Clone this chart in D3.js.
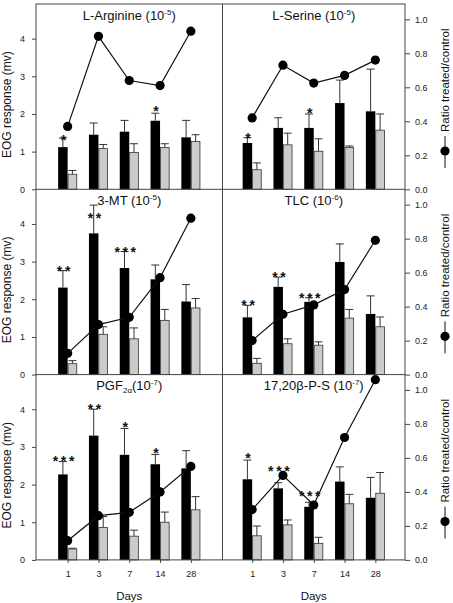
<!DOCTYPE html>
<html>
<head>
<meta charset="utf-8">
<script src="https://cdn.jsdelivr.net/npm/d3@7"></script>
<style>
  body { margin: 0; background: #fff; }
  svg { display: block; font-family: Arial, "Liberation Sans", sans-serif; }
</style>
</head>
<body>
<div id="chart"></div>
<script>
// days after exposure (x categories)
const days = ["1", "3", "7", "14", "28"]

// panel titles, split into plain / sup / sub parts
const titleParts = [
  [["L-Arginine (10", ""], ["-5", "sup"], [")", ""]],
  [["L-Serine (10", ""], ["-5", "sup"], [")", ""]],
  [["3-MT (10", ""], ["-5", "sup"], [")", ""]],
  [["TLC (10", ""], ["-6", "sup"], [")", ""]],
  [["PGF", ""], ["2\u03b1", "sub"], ["(10", ""], ["-7", "sup"], [")", ""]],
  [["17,20\u03b2-P-S (10", ""], ["-7", "sup"], [")", ""]]
]

// EOG response (mv), black bars = treated, grey bars = control
const treated = [
  [1.12, 1.45, 1.53, 1.82, 1.38],
  [1.23, 1.63, 1.63, 2.29, 2.07],
  [2.31, 3.75, 2.83, 2.53, 1.94],
  [1.52, 2.33, 1.93, 2.99, 1.61],
  [2.27, 3.30, 2.79, 2.54, 2.43],
  [2.14, 1.90, 1.41, 2.08, 1.65]
]
// top of the error bar (mean + SE)
const treatedErr = [
  [1.36, 1.76, 1.83, 2.02, 1.83],
  [1.37, 1.90, 2.00, 2.90, 3.19],
  [2.76, 4.50, 3.27, 2.91, 2.39],
  [1.84, 2.59, 2.04, 3.47, 2.09],
  [2.61, 4.00, 3.49, 2.80, 2.90],
  [2.65, 2.05, 1.53, 2.47, 2.19]
]
const control = [
  [0.40, 1.08, 0.98, 1.11, 1.27],
  [0.52, 1.18, 1.01, 1.11, 1.57],
  [0.29, 1.07, 0.95, 1.44, 1.77],
  [0.30, 0.82, 0.78, 1.50, 1.27],
  [0.29, 0.86, 0.63, 1.00, 1.33],
  [0.64, 0.93, 0.44, 1.49, 1.77]
]
const controlErr = [
  [0.50, 1.19, 1.21, 1.21, 1.45],
  [0.70, 1.49, 1.34, 1.15, 2.00],
  [0.37, 1.27, 1.24, 1.73, 2.02],
  [0.43, 0.95, 0.87, 1.73, 1.53],
  [0.31, 1.15, 0.79, 1.27, 1.68],
  [0.90, 1.06, 0.60, 1.74, 2.32]
]
// ratio treated/control (right axis)
const ratio = [
  [0.37, 0.90, 0.64, 0.61, 0.93],
  [0.42, 0.73, 0.625, 0.67, 0.76],
  [0.125, 0.294, 0.337, 0.57, 0.92],
  [0.20, 0.355, 0.41, 0.50, 0.79],
  [0.113, 0.26, 0.28, 0.40, 0.55],
  [0.296, 0.497, 0.323, 0.72, 1.06]
]
// significance marks and the level (mv) where they sit
const stars = [
  ["*", "", "", "*", ""],
  ["*", "", "*", "", ""],
  ["**", "**", "***", "", ""],
  ["**", "**", "***", "", ""],
  ["***", "**", "*", "*", ""],
  ["*", "***", "***", "", ""]
]
const starLevel = [
  [1.41, 0, 0, 2.17, 0],
  [1.46, 0, 2.11, 0, 0],
  [2.84, 4.25, 3.36, 0, 0],
  [1.95, 2.69, 2.14, 0, 0],
  [2.71, 4.11, 3.63, 2.92, 0],
  [2.79, 2.46, 1.79, 0, 0]
]

const leftTicks = [0, 1, 2, 3, 4]
const rightTicks = [0, 0.2, 0.4, 0.6, 0.8, 1.0]

// layout
const frame = {left: 36, mid: 222.5, right: 405, top: 4}
const rowH = 185.3
const leftMax = 4.92, rightMax = 1.09
const step = 30.8, barW = 9.5
const lineCol = "#444"

const svg = d3.select("#chart").append("svg")
  .attr("width", 453)
  .attr("height", 603)

titleParts.forEach((parts, p) => {
  const row = Math.floor(p / 2), col = p % 2
  const x0 = col ? frame.mid : frame.left
  const x1 = col ? frame.right : frame.mid
  const yTop = frame.top + row * rowH, yBot = yTop + rowH
  const cx = (x0 + x1) / 2

  const x = d3.scalePoint().domain(days).range([cx - 2 * step, cx + 2 * step])
  const y = d3.scaleLinear().domain([0, leftMax]).range([yBot, yTop])
  const yR = d3.scaleLinear().domain([0, rightMax]).range([yBot, yTop])

  const g = svg.append("g")

  // title
  const t = g.append("text")
    .attr("x", cx)
    .attr("y", yTop + 15.5)
    .attr("text-anchor", "middle")
    .style("font-size", "13px")
    .attr("fill", "#111")
  parts.forEach(([txt, kind]) => {
    const s = t.append("tspan").text(txt)
    if (kind === "sup") s.attr("dy", -5).style("font-size", "8px")
    else if (kind === "sub") s.attr("dy", 3).style("font-size", "8px")
  })
  // undo the shifts so following tspans sit on the baseline
  t.selectAll("tspan").each(function(d, i) {
    const kind = parts[i][1]
    const prev = i > 0 ? parts[i - 1][1] : ""
    if (kind === "" && prev === "sup") d3.select(this).attr("dy", 5)
    if (kind === "" && prev === "sub") d3.select(this).attr("dy", -3)
    if (kind === "sup" && prev === "sub") d3.select(this).attr("dy", -8)
  })

  // error bars
  const errs = []
  days.forEach((d, i) => {
    errs.push({cx: x(d) - barW / 2, v: treated[p][i], e: treatedErr[p][i]})
    errs.push({cx: x(d) + barW / 2, v: control[p][i], e: controlErr[p][i]})
  })
  g.selectAll(".err").data(errs).join("path")
    .attr("fill", "none")
    .attr("stroke", "#333")
    .attr("stroke-width", 1)
    .attr("d", d => `M${d.cx},${y(d.v)}V${y(d.e)}M${d.cx - 4},${y(d.e)}H${d.cx + 4}`)

  // bars
  g.selectAll(".tr").data(days).join("rect")
    .attr("x", d => x(d) - barW)
    .attr("y", (d, i) => y(treated[p][i]))
    .attr("width", barW)
    .attr("height", (d, i) => yBot - y(treated[p][i]))
    .attr("fill", "#000")
  g.selectAll(".ct").data(days).join("rect")
    .attr("x", d => x(d) + 0.4)
    .attr("y", (d, i) => y(control[p][i]))
    .attr("width", barW - 0.8)
    .attr("height", (d, i) => yBot - y(control[p][i]))
    .attr("fill", "#cbcbcb")
    .attr("stroke", "#333")
    .attr("stroke-width", 0.8)

  // ratio line + dots
  const line = d3.line()
    .x((d, i) => x(days[i]))
    .y(d => yR(d))
  g.append("path")
    .datum(ratio[p])
    .attr("fill", "none")
    .attr("stroke", "#111")
    .attr("stroke-width", 1.2)
    .attr("d", line)
  g.selectAll(".dot").data(ratio[p]).join("circle")
    .attr("cx", (d, i) => x(days[i]))
    .attr("cy", d => yR(d))
    .attr("r", 4.6)
    .attr("fill", "#000")

  // significance stars
  g.selectAll(".star").data(stars[p]).join("text")
    .attr("x", (d, i) => x(days[i]) - barW / 2 + 2)
    .attr("y", (d, i) => y(starLevel[p][i]) + 8.5)
    .attr("text-anchor", "middle")
    .style("font-size", "14px")
    .style("font-weight", "bold")
    .style("letter-spacing", "2.6px")
    .attr("fill", "#111")
    .text(d => d)

  // axes
  if (col === 0) {
    const ax = g.append("g")
      .attr("transform", `translate(${x0},0)`)
      .call(d3.axisLeft(y).tickValues(leftTicks).tickSize(4).tickPadding(7).tickFormat(d3.format("d")))
    ax.select(".domain").remove()
    ax.selectAll("line").attr("stroke", lineCol)
    ax.selectAll("text").style("font-size", "9px").attr("fill", "#222")

    g.append("text")
      .attr("transform", `translate(11,${yTop + rowH / 2 + 8}) rotate(-90)`)
      .attr("text-anchor", "middle")
      .style("font-size", "12px")
      .attr("fill", "#111")
      .text("EOG response (mv)")
  } else {
    const ax = g.append("g")
      .attr("transform", `translate(${x1},0)`)
      .call(d3.axisRight(yR).tickValues(rightTicks).tickSize(5).tickPadding(5).tickFormat(d3.format(".1f")))
    ax.select(".domain").remove()
    ax.selectAll("line").attr("stroke", lineCol)
    ax.selectAll("text").style("font-size", "9px").attr("fill", "#222")

    const lg = g.append("g")
      .attr("transform", `translate(445,${yTop + 130}) rotate(-90)`)
    lg.append("text")
      .attr("x", 2)
      .attr("y", 4)
      .style("font-size", "11.5px")
      .attr("fill", "#111")
      .text("Ratio treated/control")
    lg.append("line")
      .attr("x1", -2).attr("x2", -34)
      .attr("y1", 0).attr("y2", 0)
      .attr("stroke", "#111")
    lg.append("circle")
      .attr("cx", -17).attr("cy", 0).attr("r", 4.6)
      .attr("fill", "#000")
  }

  if (row === 2) {
    const ax = g.append("g")
      .attr("transform", `translate(0,${yBot})`)
      .call(d3.axisBottom(x).tickSize(3).tickPadding(8))
    ax.select(".domain").remove()
    ax.selectAll("line").attr("stroke", lineCol)
    ax.selectAll("text").style("font-size", "9px").attr("fill", "#222")

    g.append("text")
      .attr("x", cx)
      .attr("y", 600)
      .attr("text-anchor", "middle")
      .style("font-size", "11.5px")
      .attr("fill", "#111")
      .text("Days")
  }
})

// frame lines
const fBot = frame.top + 3 * rowH
svg.append("rect")
  .attr("x", frame.left)
  .attr("y", frame.top)
  .attr("width", frame.right - frame.left)
  .attr("height", fBot - frame.top)
  .attr("fill", "none")
  .attr("stroke", lineCol)
svg.append("line")
  .attr("x1", frame.mid).attr("x2", frame.mid)
  .attr("y1", frame.top).attr("y2", fBot)
  .attr("stroke", lineCol)
;[1, 2].forEach(r => {
  svg.append("line")
    .attr("x1", frame.left).attr("x2", frame.right)
    .attr("y1", frame.top + r * rowH).attr("y2", frame.top + r * rowH)
    .attr("stroke", lineCol)
})
</script>
</body>
</html>
